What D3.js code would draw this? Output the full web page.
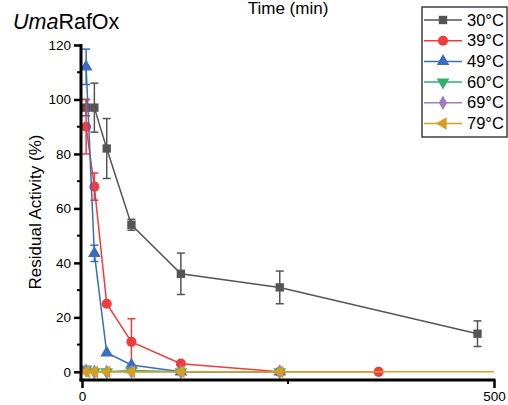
<!DOCTYPE html>
<html><head><meta charset="utf-8">
<script src="https://cdn.jsdelivr.net/npm/d3@7"></script>
<style>body{margin:0;background:#fff}svg{display:block;font-family:"Liberation Sans",Arial,sans-serif}</style>
</head><body><svg id="c" width="508" height="405"></svg>
<script>
const seriesNames = ["30°C","39°C","49°C","60°C","69°C","79°C"];
const colors = ["#555555","#f03c3c","#3a6cc2","#2db36e","#a07cc4","#d69f22"];
const times30 = [5,15,30,60,120,240,480];
const vals30 = [97,97,82,54,36,31,14];
const err30 = [3,9,11,2,7.6,6,4.7];
const times39 = [5,15,30,60,120,240,360];
const vals39 = [90,68,25,11,3,0,0];
const err39 = [10,5,0.5,8.5,0.5,0,0];
const times49 = [5,15,30,60,120,240];
const vals49 = [112,43.5,7,2.5,0,0];
const err49 = [6.5,3,0.5,0.5,0,0];
const times60 = [5,15,30,60,120,240];
const vals60 = [1,0,0,0.5,0,0];
const times69 = [5,15,30,60,120,240];
const vals69 = [0.5,0,0,0,0,0];
const times79 = [5,15,30,60,120,240,500];
const vals79 = [0,0,0,0,0,0,0];
const yTicks = [0,20,40,60,80,100,120];
const xTicks = [0,500];

const series = [
  {t:times30,v:vals30,e:err30,sym:d3.symbolSquare},
  {t:times39,v:vals39,e:err39,sym:d3.symbolCircle},
  {t:times49,v:vals49,e:err49,sym:d3.symbolTriangle},
  {t:times60,v:vals60,e:null,sym:d3.symbolTriangle,rot:180},
  {t:times69,v:vals69,e:null,sym:d3.symbolDiamond},
  {t:times79,v:vals79,e:null,sym:d3.symbolTriangle,rot:-90},
];

const svg = d3.select("#c");
const x = d3.scaleLinear().domain([0,500]).range([82,494]);
const y = d3.scaleLinear().domain([-3,120]).range([380,45]);

// markers are clipped to the inner frame, as in the original plot
svg.append("clipPath").attr("id","frame").append("rect")
  .attr("x",0).attr("y",0).attr("width",x(500)-6).attr("height",405);

series.forEach((s,i)=>{
  const g = svg.append("g");
  const pts = s.t.map((t,j)=>({t,v:s.v[j],e:s.e?s.e[j]:0}));
  g.append("path").datum(pts).attr("fill","none").attr("stroke",colors[i]).attr("stroke-width",1.5)
    .attr("d",d3.line().x(d=>x(d.t)).y(d=>y(d.v)));
  if(s.e){
    pts.filter(d=>d.e>1).forEach(d=>{
      const cx=x(d.t), y1=y(d.v+d.e), y2=y(d.v-d.e);
      g.append("line").attr("x1",cx).attr("x2",cx).attr("y1",y1).attr("y2",y2).attr("stroke",colors[i]).attr("stroke-width",1.5);
      [y1,y2].forEach(yy=>g.append("line").attr("x1",cx-4).attr("x2",cx+4).attr("y1",yy).attr("y2",yy).attr("stroke",colors[i]).attr("stroke-width",1.5));
    });
  }
  const size = s.sym===d3.symbolCircle?80:(s.sym===d3.symbolDiamond?60:70);
  g.append("g").attr("clip-path","url(#frame)").selectAll("path").data(pts).join("path")
    .attr("transform",d=>`translate(${x(d.t)},${y(d.v)}) rotate(${s.rot||0})`)
    .attr("d",d3.symbol().type(s.sym).size(size)).attr("fill",colors[i]);
});

// axes
const yAxis = svg.append("g").attr("transform","translate(81,0)")
  .call(d3.axisLeft(y).tickValues(yTicks).tickSize(7).tickPadding(3));
yAxis.select(".domain").remove();
yAxis.selectAll("line").attr("stroke","#000").attr("stroke-width",2.5);
yAxis.selectAll("text").attr("font-size",13.5).attr("fill","#000").attr("font-family","Liberation Sans, Arial");
svg.append("g").selectAll("line").data([10,30,50,70,90,110]).join("line")
  .attr("x1",77).attr("x2",81).attr("y1",d=>y(d)).attr("y2",d=>y(d)).attr("stroke","#000").attr("stroke-width",2);
svg.append("line").attr("x1",81).attr("x2",81).attr("y1",44).attr("y2",381.5).attr("stroke","#000").attr("stroke-width",3);

const xAxis = svg.append("g").attr("transform","translate(0,380)")
  .call(d3.axisBottom(x).tickValues(xTicks).tickSize(8).tickPadding(3));
xAxis.select(".domain").remove();
xAxis.selectAll("line").attr("stroke","#000").attr("stroke-width",2.5);
xAxis.selectAll("text").attr("font-size",13.5).attr("fill","#000").attr("font-family","Liberation Sans, Arial");
svg.append("line").attr("x1",x(250)).attr("x2",x(250)).attr("y1",380).attr("y2",384).attr("stroke","#000").attr("stroke-width",2);
svg.append("line").attr("x1",79.5).attr("x2",495.5).attr("y1",380).attr("y2",380).attr("stroke","#000").attr("stroke-width",3);

// labels
svg.append("text").attr("x",288).attr("y",14).attr("text-anchor","middle").attr("font-size",17).text("Time (min)");
svg.append("text").attr("transform","translate(41,212) rotate(-90)").attr("text-anchor","middle").attr("font-size",17).text("Residual Activity (%)");
const title = svg.append("text").attr("x",13).attr("y",29).attr("font-size",21.5);
title.append("tspan").attr("font-style","italic").text("Uma");
title.append("tspan").text("RafOx");

// legend
const lg = svg.append("g");
lg.append("rect").attr("x",422).attr("y",7).attr("width",85).attr("height",130).attr("fill","#fff").attr("stroke","#222").attr("stroke-width",1.3);
series.forEach((s,i)=>{
  const yy = 20 + i*20.7;
  lg.append("line").attr("x1",424).attr("x2",462).attr("y1",yy).attr("y2",yy).attr("stroke",colors[i]).attr("stroke-width",1.5);
  const size = s.sym===d3.symbolCircle?80:(s.sym===d3.symbolDiamond?60:70);
  lg.append("path").attr("transform",`translate(443,${yy}) rotate(${s.rot||0})`).attr("d",d3.symbol().type(s.sym).size(size)).attr("fill",colors[i]);
  lg.append("text").attr("x",467).attr("y",yy+5.5).attr("font-size",16.5).text(seriesNames[i]);
});
</script></body></html>
